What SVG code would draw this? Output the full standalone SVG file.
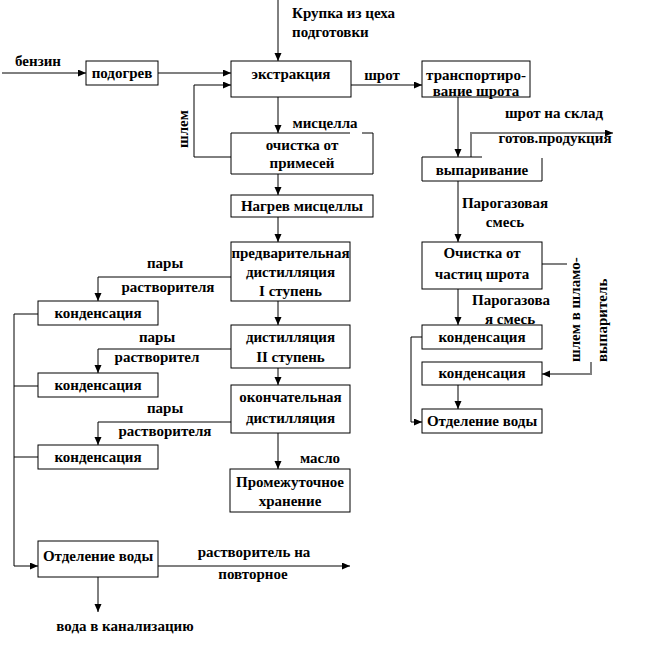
<svg xmlns="http://www.w3.org/2000/svg" width="650" height="664" viewBox="0 0 650 664">
<style>
.b{fill:#fff;stroke:#000;stroke-width:1}
text{font-family:'Liberation Serif','DejaVu Serif',serif;font-weight:bold;font-size:15px;fill:#000;text-anchor:middle}
.s{text-anchor:start}
.k{fill:none;stroke:#000;stroke-width:1}
.g{fill:none;stroke:#808080;stroke-width:2}
</style>
<defs>
<marker id="ah" markerUnits="userSpaceOnUse" markerWidth="9" markerHeight="8" refX="8" refY="3.5" orient="auto">
<path d="M0,0 L8,3.5 L0,7 z" fill="#000"/>
</marker>
</defs>
<rect width="650" height="664" fill="#fff"/>
<g id="connectors">
<path class="k" d="M2,73 H86" marker-end="url(#ah)"/>
<path class="k" d="M278,0 V61" marker-end="url(#ah)"/>
<path class="k" d="M278,97 V133" marker-end="url(#ah)"/>
<path class="k" d="M231,157 H194 V85 H231" marker-end="url(#ah)"/>
<path class="k" d="M278,174 V195" marker-end="url(#ah)"/>
<path class="k" d="M278,217 V242" marker-end="url(#ah)"/>
<path class="k" d="M278,301 V325" marker-end="url(#ah)"/>
<path class="k" d="M278,368 V385" marker-end="url(#ah)"/>
<path class="k" d="M278,433 V469" marker-end="url(#ah)"/>
<path class="k" d="M231,277 H98 V301" marker-end="url(#ah)"/>
<path class="k" d="M231,349 H98 V373" marker-end="url(#ah)"/>
<path class="k" d="M231,422 H98 V445" marker-end="url(#ah)"/>
<path class="k" d="M38,314 H14 V566 H38" marker-end="url(#ah)"/>
<path class="k" d="M14,386 H38 M14,457 H38"/>
<path class="k" d="M98,577 V612" marker-end="url(#ah)"/>
<path class="k" d="M458,97 V157" marker-end="url(#ah)"/>
<path class="k" d="M458,181 V242" marker-end="url(#ah)"/>
<path class="k" d="M458,289 V325" marker-end="url(#ah)"/>
<path class="k" d="M458,385 V409" marker-end="url(#ah)"/>
<path class="k" d="M422,337 H411 V422 H422" marker-end="url(#ah)"/>
<path class="g" d="M158,73 H231" marker-end="url(#ah)"/>
<path class="g" d="M351,85 H422" marker-end="url(#ah)"/>
<path class="g" d="M471,157 V133 H613" marker-end="url(#ah)"/>
<path class="g" d="M542,264 H567"/>
<path class="g" d="M591,362 V374 H542" marker-end="url(#ah)"/>
<path class="g" d="M158,566 H350" marker-end="url(#ah)"/>
</g>
<g id="labels">
<text x="38" y="66">бензин</text>
<text class="s" x="292" y="18">Крупка из цеха</text>
<text class="s" x="292" y="37">подготовки</text>
<text x="382" y="80">шрот</text>
<text x="325" y="128">мисцелла</text>
<text transform="translate(188,129) rotate(-90)">шлем</text>
<text x="165" y="268">пары</text>
<text x="168" y="292">растворителя</text>
<text x="157" y="342">пары</text>
<text x="157" y="362">растворител</text>
<text x="165" y="413">пары</text>
<text x="165" y="436">растворителя</text>
<text x="320" y="463">масло</text>
<text x="254" y="557">растворитель на</text>
<text x="253" y="579">повторное</text>
<text x="125" y="631">вода в канализацию</text>
<text x="554" y="118">шрот на склад</text>
<text x="555" y="143">готов.продукция</text>
<text x="505" y="208">Парогазовая</text>
<text x="505" y="227">смесь</text>
<text x="511" y="305">Парогазова</text>
<text x="510" y="324">я смесь</text>
<text class="s" transform="translate(580,362) rotate(-90)">шлем в шламо-</text>
<text class="s" transform="translate(607,362) rotate(-90)">выпаритель</text>
</g>
<g id="podogrev"><rect class="b" x="86" y="61" width="72" height="24"/><text x="122" y="78">подогрев</text></g>
<g id="ekstrakciya"><rect class="b" x="231" y="61" width="120" height="36"/><text x="291" y="79">экстракция</text></g>
<g id="ochistka"><path class="k" d="M350,133 H231 V174 H373 V133 H362"/><text x="302" y="150">очистка от</text><text x="302" y="168">примесей</text></g>
<g id="nagrev"><rect class="b" x="231" y="195" width="142" height="22"/><text x="302" y="211">Нагрев мисцеллы</text></g>
<g id="dist1"><rect class="b" x="231" y="242" width="119" height="59"/><text x="290.5" y="258">предварительная</text><text x="290.5" y="277">дистилляция</text><text x="290.5" y="296">I ступень</text></g>
<g id="dist2"><rect class="b" x="231" y="325" width="119" height="43"/><text x="290.5" y="342">дистилляция</text><text x="290.5" y="362">II ступень</text></g>
<g id="dist3"><rect class="b" x="231" y="385" width="119" height="48"/><text x="290.5" y="402">окончательная</text><text x="290.5" y="423">дистилляция</text></g>
<g id="hranenie"><rect class="b" x="230" y="469" width="120" height="43"/><text x="290" y="487">Промежуточное</text><text x="290" y="506">хранение</text></g>
<g id="kond1"><rect class="b" x="38" y="301" width="120" height="24"/><text x="98" y="318">конденсация</text></g>
<g id="kond2"><rect class="b" x="38" y="373" width="120" height="24"/><text x="98" y="390">конденсация</text></g>
<g id="kond3"><rect class="b" x="38" y="445" width="120" height="24"/><text x="98" y="462">конденсация</text></g>
<g id="otdel1"><rect class="b" x="38" y="541" width="120" height="36"/><text x="98" y="561">Отделение воды</text></g>
<g id="transport"><rect class="b" x="422" y="61" width="108" height="36"/><text x="476" y="80">транспортиро-</text><text x="476" y="96">вание шрота</text></g>
<g id="vyparivanie"><path class="k" d="M482,157 H422 V181 H542 V158"/><text x="482" y="175">выпаривание</text></g>
<g id="ochistka2"><rect class="b" x="422" y="242" width="120" height="47"/><text x="482" y="258">Очистка от</text><text x="482" y="279">частиц шрота</text></g>
<g id="kond4"><rect class="b" x="422" y="325" width="120" height="24"/><text x="482" y="342">конденсация</text></g>
<g id="kond5"><rect class="b" x="422" y="362" width="120" height="23"/><text x="482" y="378">конденсация</text></g>
<g id="otdel2"><rect class="b" x="422" y="409" width="120" height="24"/><text x="482" y="426">Отделение воды</text></g>
</svg>
